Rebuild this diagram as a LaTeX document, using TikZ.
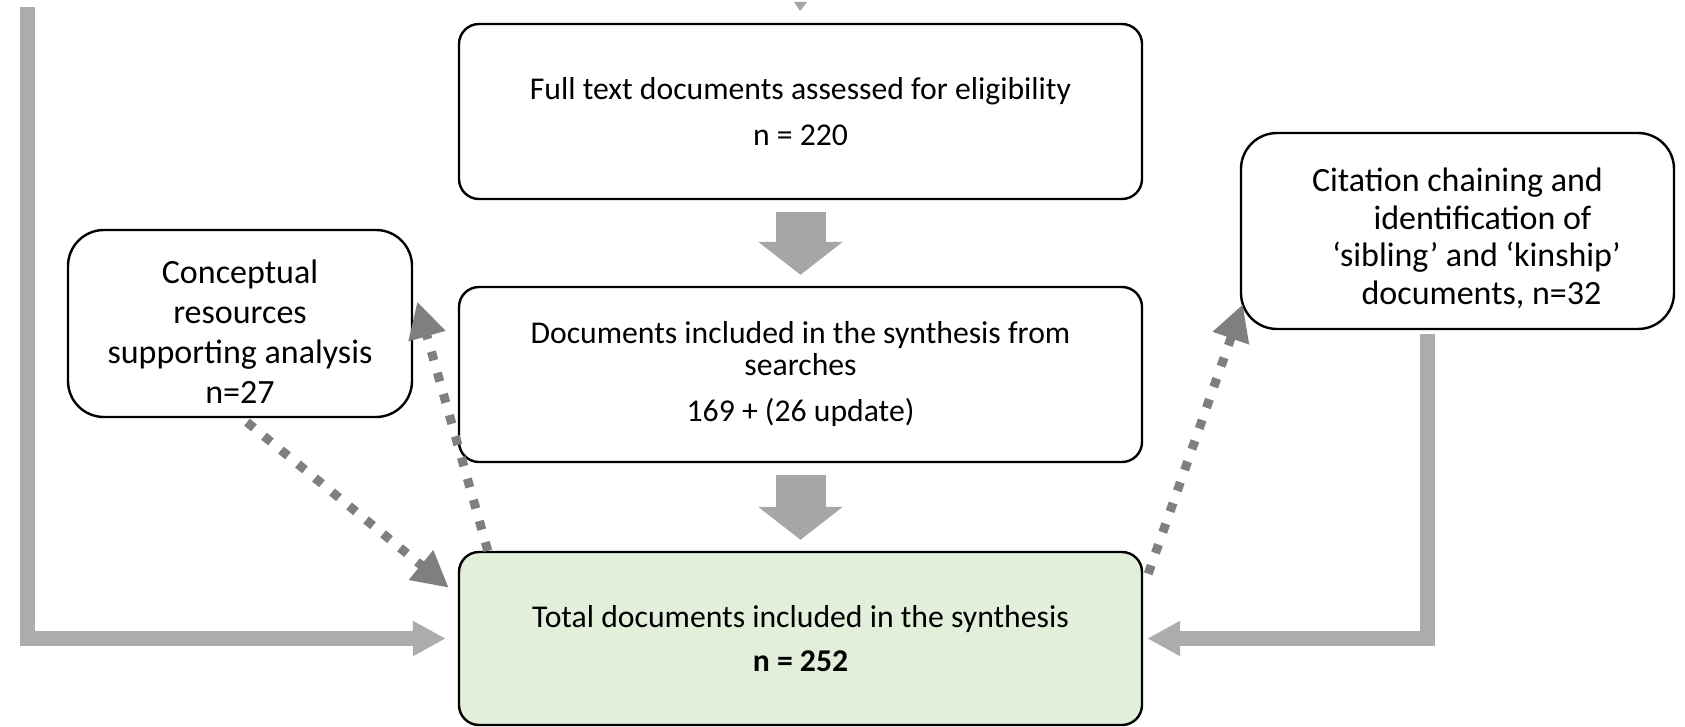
\documentclass[tikz,border=0pt]{standalone}
\usepackage{fontspec}
\setmainfont{Carlito}
\usetikzlibrary{arrows.meta}

\definecolor{bargray}{HTML}{AEABAB}
\definecolor{blockgray}{HTML}{A6A6A6}
\definecolor{dotgray}{HTML}{7F7F7F}
\definecolor{totalgreen}{HTML}{E2EFDA}

\tikzset{
    mainbox/.style={rectangle, draw, line width=2.4pt, rounded corners=20pt,
        minimum width=683pt, minimum height=175pt, align=center, inner sep=0pt,
        font=\fontsize{31.7}{32}\selectfont},
    sidebox/.style={rectangle, draw, line width=2.4pt, rounded corners=36pt,
        align=center, inner sep=0pt},
    flowarrow/.style={blockgray, line width=50pt, -{Triangle[length=33pt,width=83pt]},
        shorten <=12pt, shorten >=11pt},
    feedline/.style={bargray, line width=15pt, -{Triangle[length=33pt,width=33pt]},
        shorten >=12pt},
    linkline/.style={dotgray, line width=9pt, dash pattern=on 9pt off 13pt,
        -{Triangle[length=36pt,width=36pt]}}
}

\begin{document}
\begin{tikzpicture}[x=1pt, y=-1pt]
    \useasboundingbox (0,0) rectangle (1685,727);

    % main column
    \node[mainbox] (full) at (800.5,111.5)
        {Full text documents assessed for eligibility\\[14pt] n = 220};
    \node[mainbox] (searches) at (800.5,374.5)
        {Documents included in the synthesis from\\ searches\\[14pt] 169 + (26 update)};
    \node[mainbox, fill=totalgreen, minimum height=173pt] (total) at (800.5,638.5)
        {Total documents included in the synthesis\\[12pt] \textbf{n = 252}};

    % side boxes
    \node[sidebox, minimum width=344pt, minimum height=187pt,
        font=\fontsize{34}{39.8}\selectfont] (concept) at (240,323.5)
        {\rule{0pt}{40pt}Conceptual\\ resources\\ supporting analysis\\ n=27};
    \node[sidebox, minimum width=433pt, minimum height=196pt,
        font=\fontsize{34}{37.5}\selectfont] (citation) at (1457.5,231)
        {\rule{0pt}{38pt}Citation chaining and\\ \hspace*{50pt}identification of\\
         \hspace*{38pt}‘sibling’ and ‘kinship’\\ \hspace*{48pt}documents, n=32};

    % incoming tip at the top
    \fill[blockgray] (794,2) -- (807,2) -- (800,11) -- cycle;

    % block arrows
    \draw[flowarrow] (full) -- (searches);
    \draw[flowarrow] (searches) -- (total);

    % feed lines
    \coordinate (leftin) at (27.5,7);
    \coordinate (citeout) at ([xshift=-30pt,yshift=-4pt]citation.south);
    \draw[feedline] (leftin) |- (total.west);
    \draw[feedline, shorten >=4pt] (citeout) |- (total.east);

    % dotted links
    \draw[linkline] ([xshift=7pt,yshift=-4pt]concept.south) -- ([xshift=-9pt,yshift=-37pt]total.north west);
    \draw[linkline] ([xshift=30pt]total.north west) -- ([xshift=4pt,yshift=22pt]concept.east);
    \draw[linkline] ([xshift=5pt,yshift=-23pt]total.north east) -- ([xshift=3pt,yshift=26pt]citation.south west);
\end{tikzpicture}
\end{document}
